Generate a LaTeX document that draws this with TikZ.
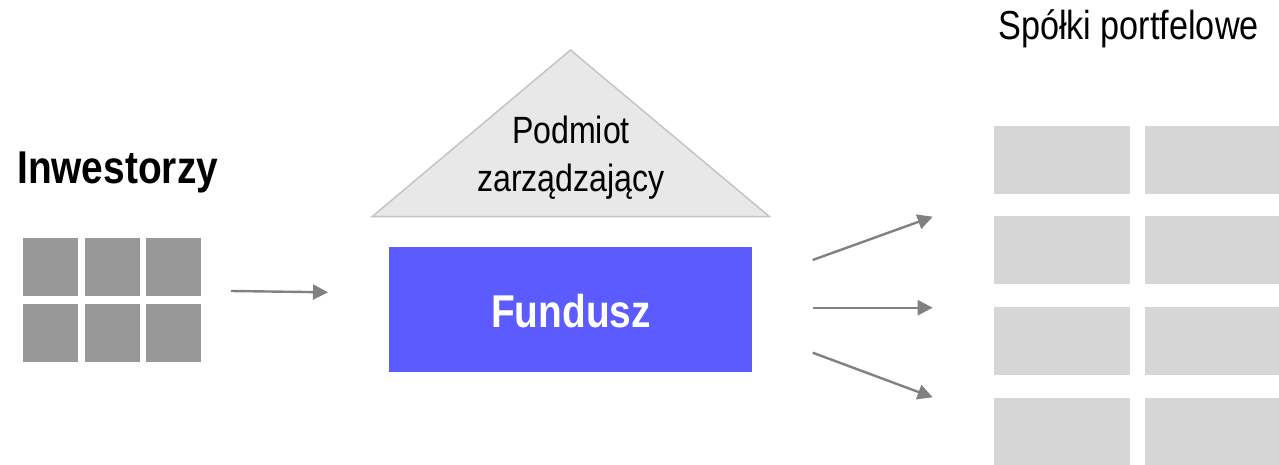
\documentclass[tikz,border=0pt]{standalone}
\usepackage{fontspec}
\setmainfont{Liberation Sans}[FakeStretch=0.845]
\usetikzlibrary{arrows.meta}
\definecolor{invgray}{HTML}{989898}
\definecolor{compgray}{HTML}{D6D6D6}
\definecolor{trifill}{HTML}{E8E8E8}
\definecolor{triedge}{HTML}{C4C4C4}
\definecolor{fundblue}{HTML}{5B5BFF}
\definecolor{arrowgray}{HTML}{818181}
\tikzset{
  invbox/.style={fill=invgray, draw=none},
  compbox/.style={fill=compgray, draw=none},
  flow/.style={draw=arrowgray, line width=2.4pt, -{Triangle[length=15pt,width=15pt]}},
  lbl/.style={inner sep=0pt, anchor=base}
}
\begin{document}
\begin{tikzpicture}[x=1pt,y=-1pt]
\useasboundingbox (0,0) rectangle (1279,465);
% investors grid
\foreach \cx/\i in {23/1,85/2,146/3}{
  \fill[invbox] (\cx,238) rectangle ++(55,58);
  \fill[invbox] (\cx,304) rectangle ++(55,58);
}
\node[lbl, anchor=base west] (inw) at (17,183.3) {\fontsize{46}{54}\selectfont\bfseries Inwestorzy};
% triangle
\coordinate (tA) at (570.5,50);
\coordinate (tL) at (372.3,216.5);
\coordinate (tR) at (769.3,216.5);
\filldraw[fill=trifill, draw=triedge, line width=1.5pt, line join=miter] (tL) -- (tA) -- (tR) -- cycle;
\node[lbl] (pm1) at (571,143.3) {\fontsize{38}{44}\selectfont Podmiot};
\node[lbl] (pm2) at (571,191.7) {\fontsize{38}{44}\selectfont zarządzający};
% fund
\node[fill=fundblue, minimum width=363pt, minimum height=124.7pt, inner sep=0pt, anchor=north west] (fund) at (389,247) {};
\node[lbl, text=white] (fundtxt) at (571,327.3) {\fontsize{46}{54}\selectfont\bfseries Fundusz};
% portfolio companies
\node[lbl, anchor=base west] (spk) at (998,39.3) {\fontsize{40.5}{47}\selectfont Spółki portfelowe};
\foreach \ry in {126,216,307,398}{
  \fill[compbox] (994,\ry) rectangle (1130,\ry+67.7);
  \fill[compbox] (1145,\ry) rectangle (1279,\ry+67.7);
}
% arrows
\coordinate (a0s) at (231,291);
\coordinate (a0e) at (328,292.3);
\coordinate (a1s) at (812.7,260);
\coordinate (a1e) at (932.7,216.7);
\coordinate (a2s) at (812.7,307.7);
\coordinate (a2e) at (932.7,307.7);
\coordinate (a3s) at (812.7,352.7);
\coordinate (a3e) at (932.7,397.3);
\draw[flow] (a0s) -- (a0e);
\draw[flow] (a1s) -- (a1e);
\draw[flow] (a2s) -- (a2e);
\draw[flow] (a3s) -- (a3e);
\end{tikzpicture}
\end{document}
